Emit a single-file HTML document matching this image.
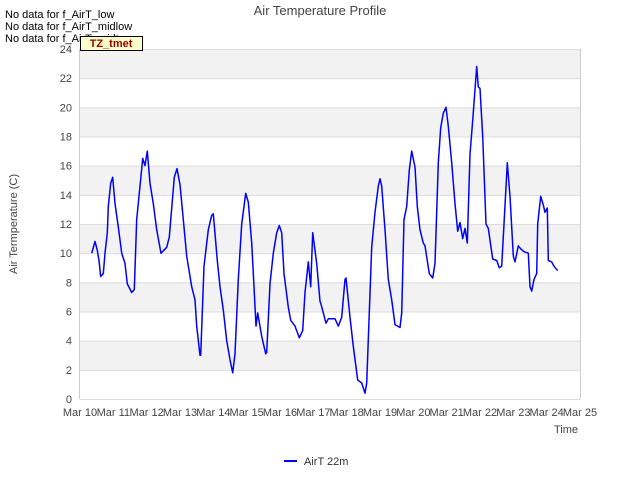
<!DOCTYPE html>
<html><head><meta charset="utf-8"><style>
body{margin:0;background:#fff;font-family:"Liberation Sans",sans-serif;}
svg text{font-family:"Liberation Sans",sans-serif;}
</style></head><body>
<svg id="chart" width="640" height="480" viewBox="0 0 640 480">
<rect x="0" y="0" width="640" height="480" fill="#fff"/>
<g id="bands"></g>
<g id="grid"></g>
<g id="yticks"></g>
<g id="xticks"></g>
<path id="series" fill="none" stroke="#0000ff" stroke-width="1.5" stroke-linejoin="round"/>
<text x="320" y="15" text-anchor="middle" font-size="13" fill="#444">Air Temperature Profile</text>
<text x="17" y="224" text-anchor="middle" font-size="11" fill="#444" transform="rotate(-90 17 224)">Air Termperature (C)</text>
<text x="578" y="433" text-anchor="end" font-size="11" fill="#444">Time</text>
<text x="5" y="18" font-size="11" fill="#000">No data for f_AirT_low</text>
<text x="5" y="30" font-size="11" fill="#000">No data for f_AirT_midlow</text>
<text x="5" y="42" font-size="11" fill="#000">No data for f_AirT_midtop</text>
<g>
<rect x="80.5" y="36.5" width="62" height="14" fill="#ffffcc" stroke="#000" stroke-width="1"/>
<text x="111" y="47" text-anchor="middle" font-size="11" font-weight="bold" fill="#990000">TZ_tmet</text>
</g>
<g>
<line x1="284" y1="461" x2="297" y2="461" stroke="#0000ff" stroke-width="2"/>
<text x="304" y="465" font-size="11" fill="#333">AirT 22m</text>
</g>
</svg>
<script>
const times=[10.35,10.45,10.52,10.57,10.62,10.7,10.75,10.82,10.85,10.92,10.98,11.05,11.15,11.25,11.35,11.42,11.55,11.63,11.7,11.8,11.88,11.95,12.02,12.1,12.2,12.3,12.43,12.6,12.68,12.78,12.83,12.91,13.0,13.1,13.2,13.35,13.45,13.5,13.6,13.62,13.72,13.85,13.95,14.0,14.12,14.2,14.3,14.4,14.5,14.58,14.65,14.75,14.85,14.97,15.05,15.15,15.22,15.28,15.33,15.45,15.57,15.6,15.7,15.8,15.9,15.98,16.05,16.12,16.25,16.32,16.45,16.58,16.68,16.75,16.85,16.92,16.98,17.1,17.2,17.23,17.38,17.45,17.65,17.75,17.85,17.95,17.98,18.1,18.2,18.33,18.45,18.55,18.6,18.75,18.85,18.95,19.0,19.05,19.15,19.25,19.35,19.45,19.6,19.65,19.72,19.8,19.88,19.95,20.05,20.12,20.2,20.3,20.35,20.48,20.58,20.65,20.75,20.82,20.9,20.98,21.05,21.15,21.25,21.33,21.4,21.48,21.55,21.62,21.7,21.78,21.9,21.95,22.0,22.08,22.18,22.25,22.38,22.5,22.58,22.65,22.72,22.82,22.9,23.0,23.05,23.15,23.22,23.32,23.45,23.5,23.55,23.62,23.7,23.73,23.82,23.9,23.95,24.02,24.05,24.15,24.22,24.33];
const temps=[10.0,10.8,10.2,9.5,8.4,8.6,10.0,11.4,13.2,14.8,15.2,13.4,11.8,10.0,9.3,7.9,7.3,7.5,12.3,14.6,16.5,16.0,17.0,14.8,13.4,11.6,10.0,10.4,11.1,13.9,15.2,15.8,14.7,12.3,9.8,7.7,6.8,5.0,3.0,3.0,9.1,11.6,12.6,12.7,9.5,7.7,6.1,4.0,2.7,1.8,3.1,8.2,12.0,14.1,13.5,10.7,7.7,5.0,5.9,4.3,3.1,3.2,7.9,10.0,11.4,11.9,11.4,8.6,6.3,5.4,5.0,4.2,4.7,7.3,9.4,7.7,11.4,9.3,6.7,6.5,5.2,5.5,5.5,5.0,5.6,8.2,8.3,5.6,3.6,1.3,1.1,0.4,1.1,10.4,12.8,14.6,15.1,14.6,11.6,8.2,6.8,5.1,4.9,5.9,12.3,13.2,15.7,17.0,15.9,13.2,11.6,10.7,10.5,8.6,8.3,9.3,16.2,18.6,19.6,20.0,18.7,16.2,13.4,11.5,12.1,11.0,11.7,10.7,16.8,19.1,22.8,21.4,21.3,18.0,12.0,11.7,9.6,9.5,9.0,9.1,12.0,16.2,13.9,9.8,9.4,10.5,10.3,10.1,10.0,7.7,7.4,8.2,8.6,12.0,13.9,13.3,12.8,13.1,9.5,9.4,9.1,8.8];
const yTicks=[0,2,4,6,8,10,12,14,16,18,20,22,24];
const xTickDays=[10,11,12,13,14,15,16,17,18,19,20,21,22,23,24,25];
const xTickLabels=["Mar 10","Mar 11","Mar 12","Mar 13","Mar 14","Mar 15","Mar 16","Mar 17","Mar 18","Mar 19","Mar 20","Mar 21","Mar 22","Mar 23","Mar 24","Mar 25"];

const L=80,R=580,T=49,B=399;
const xs=d=>L+(d-10)/15*(R-L);
const ys=v=>B-v/24*(B-T);
const NS="http://www.w3.org/2000/svg";
function mk(tag,attrs,parent){const e=document.createElementNS(NS,tag);for(const k in attrs)e.setAttribute(k,attrs[k]);parent.appendChild(e);return e;}
const bands=document.getElementById('bands'),grid=document.getElementById('grid'),yt=document.getElementById('yticks'),xt=document.getElementById('xticks');
for(let i=0;i<yTicks.length-1;i++){
  if(i%2===1){
    const r=mk('rect',{x:L,y:ys(yTicks[i+1]),width:R-L,height:ys(yTicks[i])-ys(yTicks[i+1]),fill:'#f2f2f2'},bands);
    
    
  }
}
yTicks.forEach(v=>{
  const g=mk('line',{x1:L,x2:R,y1:ys(v)+0.5,y2:ys(v)+0.5,stroke:'#dcdcdc','stroke-width':1},grid);
  
  
  const t=mk('text',{x:L-8,y:ys(v)+4,'text-anchor':'end','font-size':11,fill:'#444'},yt);
  t.textContent=v;
  
  
});
mk('line',{x1:L-0.5,x2:L-0.5,y1:T,y2:B,stroke:'#ccc'},grid);
mk('line',{x1:R+0.5,x2:R+0.5,y1:T,y2:B,stroke:'#ccc'},grid);
xTickDays.forEach((d,i)=>{
  const t=mk('text',{x:xs(d),y:B+17,'text-anchor':'middle','font-size':11,fill:'#444'},xt);
  t.textContent=xTickLabels[i];
  
  
});
document.getElementById('series').setAttribute('d',times.map((d,i)=>(i?'L':'M')+xs(d).toFixed(1)+' '+ys(temps[i]).toFixed(1)).join(' '));
</script>
</body></html>
